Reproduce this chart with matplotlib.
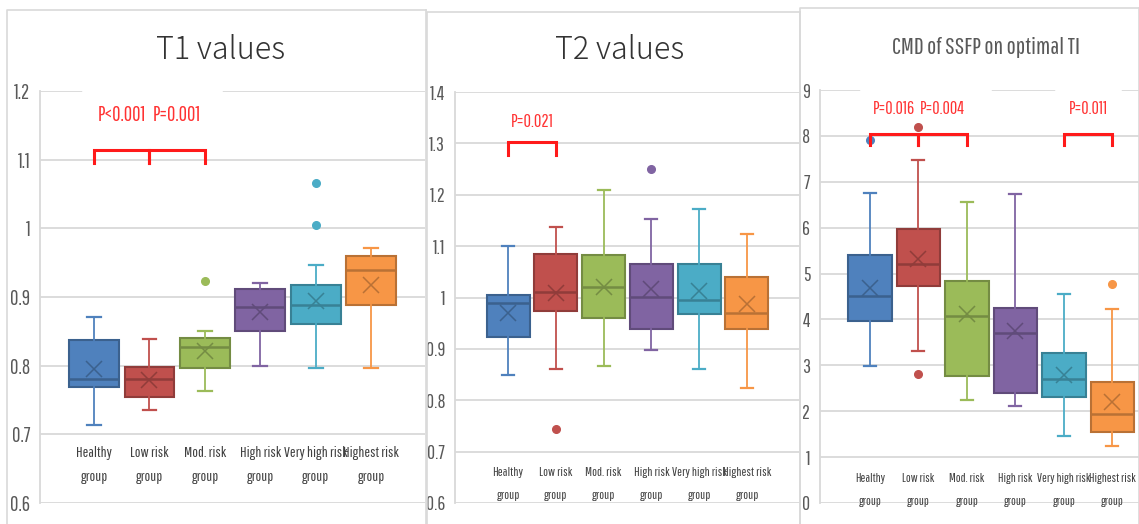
import matplotlib
matplotlib.use("Agg")
import matplotlib.pyplot as plt
from matplotlib import font_manager
from matplotlib.lines import Line2D
import matplotlib.colors as mcolors

# groups shared by all three panels
groups = ["Healthy\ngroup", "Low risk\ngroup", "Mod. risk\ngroup",
          "High risk\ngroup", "Very high risk\ngroup", "Highest risk\ngroup"]
colors = ["#4F81BD", "#C0504D", "#9BBB59", "#8064A2", "#4BACC6", "#F79646"]

# T1 values
t1_whislo = [0.714, 0.736, 0.763, 0.800, 0.796, 0.796]
t1_q1 = [0.769, 0.755, 0.796, 0.850, 0.860, 0.888]
t1_med = [0.780, 0.780, 0.827, 0.886, 0.889, 0.940]
t1_q3 = [0.838, 0.798, 0.841, 0.912, 0.917, 0.959]
t1_whishi = [0.871, 0.839, 0.851, 0.921, 0.947, 0.972]
t1_mean = [0.795, 0.779, 0.822, 0.878, 0.894, 0.917]
t1_fliers = [[], [], [0.923], [], [1.066, 1.005], []]
t1_pvals = [(0, 1, "P<0.001"), (1, 2, "P=0.001")]

# T2 values
t2_whislo = [0.850, 0.860, 0.866, 0.898, 0.860, 0.824]
t2_q1 = [0.923, 0.973, 0.960, 0.939, 0.968, 0.939]
t2_med = [0.989, 1.010, 1.020, 1.001, 0.996, 0.970]
t2_q3 = [1.004, 1.085, 1.082, 1.065, 1.065, 1.040]
t2_whishi = [1.100, 1.137, 1.209, 1.153, 1.173, 1.123]
t2_mean = [0.970, 1.009, 1.020, 1.016, 1.012, 0.987]
t2_fliers = [[], [0.744], [], [1.251], [], []]
t2_pvals = [(0, 1, "P=0.021")]

# CMD of SSFP on optimal TI
cmd_whislo = [2.99, 3.32, 2.25, 2.12, 1.47, 1.25]
cmd_q1 = [3.96, 4.73, 2.76, 2.40, 2.32, 1.55]
cmd_med = [4.52, 5.21, 4.08, 3.70, 2.71, 1.95]
cmd_q3 = [5.41, 5.97, 4.83, 4.26, 3.27, 2.64]
cmd_whishi = [6.76, 7.48, 6.55, 6.74, 4.56, 4.23]
cmd_mean = [4.68, 5.32, 4.12, 3.74, 2.80, 2.21]
cmd_fliers = [[7.9], [2.82, 8.2], [], [], [], [4.77]]
cmd_pvals = [(0, 1, "P=0.016"), (1, 2, "P=0.004"), (4, 5, "P=0.011")]

# pick a narrow font, the pasted excel charts are squeezed sideways
_names = {f.name for f in font_manager.fontManager.ttflist}
_narrow_choices = ["Pathway Gothic One", "Sofia Sans Extra Condensed", "Saira Extra Condensed",
                   "Barlow Condensed", "Roboto Condensed", "Archivo Narrow", "PT Sans Narrow"]
NARROW = [n for n in _narrow_choices if n in _names][:1] + ["DejaVu Sans"]
TITLE = ["Noto Sans CJK JP", "DejaVu Sans"]
GRID = "#D9D9D9"
W, H = 1139, 524

fig = plt.figure(figsize=(W / 100, H / 100), dpi=100)
fig.patch.set_facecolor("white")
renderer = fig.canvas.get_renderer()


def fit_size(s, target_px, family=NARROW):
    # font size that makes string s about target_px wide
    t = fig.text(0, 0, s, fontsize=10, family=family)
    w = t.get_window_extent(renderer).width
    t.remove()
    return 10 * target_px / w


def line_step(fs, family=NARROW):
    # pixel step between two lines at linespacing 1
    t1 = fig.text(0, 0, "group", fontsize=fs, family=family, linespacing=1)
    t2 = fig.text(0, 0, "group\ngroup", fontsize=fs, family=family, linespacing=1)
    d = t2.get_window_extent(renderer).height - t1.get_window_extent(renderer).height
    t1.remove()
    t2.remove()
    return d


def darker(c, f=0.75):
    r, g, b = mcolors.to_rgb(c)
    return (r * f, g * f, b * f)


def px_axes(left, right, top, bottom):
    return fig.add_axes([left / W, 1 - bottom / H, (right - left) / W, (bottom - top) / H])


def draw_panel(ax, whislo, q1, med, q3, whishi, mean, fliers, pvals,
               ylim, yticks, xlim, label_y, bracket_y, drop, ptext_y, gaps, sizes):
    lab_px, line_px, p_px, tick_px, tick_ref = sizes
    stats = []
    for i in range(len(groups)):
        stats.append(dict(whislo=whislo[i], q1=q1[i], med=med[i], q3=q3[i],
                          whishi=whishi[i], mean=mean[i], fliers=fliers[i]))
    pos = list(range(len(groups)))
    bp = ax.bxp(stats, positions=pos, widths=0.9, patch_artist=True,
                showmeans=True, capwidths=0.25, manage_ticks=False)
    for i, c in enumerate(colors):
        dk = darker(c)
        bp["boxes"][i].set(facecolor=c, edgecolor=dk, linewidth=1.5)
        bp["medians"][i].set(color=dk, linewidth=1.8)
        bp["means"][i].set(marker="x", markeredgecolor=dk, markersize=11,
                           markeredgewidth=1.1, linestyle="none")
        for w in bp["whiskers"][2 * i:2 * i + 2]:
            w.set(color=c, linewidth=1.3)
        for cp in bp["caps"][2 * i:2 * i + 2]:
            cp.set(color=c, linewidth=1.6)
        bp["fliers"][i].set(marker="o", markerfacecolor=c, markeredgecolor=c,
                            markersize=5.5)

    ax.set_xlim(*xlim)
    ax.set_ylim(*ylim)
    ax.set_yticks(yticks)
    ax.set_yticklabels([f"{v:g}" for v in yticks], family=NARROW)
    ax.set_xticks([])
    ax.tick_params(axis="y", length=0, pad=7, labelcolor="#595959",
                   labelsize=fit_size(tick_ref, tick_px))
    ax.yaxis.grid(True, color=GRID, linewidth=1.3)
    ax.set_axisbelow(True)
    for s in ["top", "right", "bottom"]:
        ax.spines[s].set_visible(False)
    ax.spines["left"].set_color(GRID)
    ax.spines["left"].set_linewidth(1.3)
    ax.patch.set_alpha(0)

    fs = fit_size("Very high risk", lab_px)
    ls = line_px / line_step(fs)
    for i, g in enumerate(groups):
        ax.text(i, label_y, g, ha="center", va="center", fontsize=fs,
                family=NARROW, color="#404040", linespacing=ls)

    # white text boxes that cut the top gridline
    for a, b in gaps:
        ax.plot([a, b], [1, 1], transform=ax.transAxes, color="white",
                linewidth=4, clip_on=False, zorder=5)

    pfs = fit_size("P=0.001", p_px)
    for a, b, txt in pvals:
        ax.plot([a, a, b, b], [bracket_y - drop, bracket_y, bracket_y, bracket_y - drop],
                color="#FF1A1A", linewidth=2.2, solid_joinstyle="miter", zorder=6)
        ax.text((a + b) / 2, ptext_y, txt, ha="center", va="center", fontsize=pfs,
                family=NARROW, color="#FF3333", zorder=7)


ax1 = px_axes(40, 425, 91, 503)
draw_panel(ax1, t1_whislo, t1_q1, t1_med, t1_q3, t1_whishi, t1_mean, t1_fliers, t1_pvals,
           (0.6, 1.2), [0.6, 0.7, 0.8, 0.9, 1.0, 1.1, 1.2], (-0.975, 5.97),
           0.655, 1.114, 0.019, 1.165, [(0.117, 0.468)], (64, 27, 48, 20, "0.9"))

ax2 = px_axes(455, 800, 92, 503)
draw_panel(ax2, t2_whislo, t2_q1, t2_med, t2_q3, t2_whishi, t2_mean, t2_fliers, t2_pvals,
           (0.6, 1.4), [0.6, 0.7, 0.8, 0.9, 1.0, 1.1, 1.2, 1.3, 1.4], (-1.11, 6.11),
           0.637, 1.302, 0.024, 1.342, [], (55, 25, 43, 15, "1.4"))

ax3 = px_axes(820, 1139, 90, 503)
draw_panel(ax3, cmd_whislo, cmd_q1, cmd_med, cmd_q3, cmd_whishi, cmd_mean, cmd_fliers, cmd_pvals,
           (0, 9), list(range(10)), (-1.03, 5.55),
           0.28, 8.04, 0.24, 8.58, [(0.135, 0.53), (0.746, 0.937)], (54, 25, 42, 15, "1.4"))

# titles
fig.text(221 / W, 1 - 50 / H, "T1 values", ha="center", va="center",
         fontsize=22, family=TITLE, weight="light", color="#333333")
fig.text(620 / W, 1 - 50 / H, "T2 values", ha="center", va="center",
         fontsize=22, family=TITLE, weight="light", color="#333333")
fig.text(986 / W, 1 - 47 / H, "CMD of SSFP on optimal TI", ha="center", va="center",
         fontsize=fit_size("CMD of SSFP on optimal TI", 187), family=NARROW, color="#595959")

# chart area borders of the three pasted charts
for x0, x1, top in [(7, 426, 10), (427, 800, 12), (800, 1139, 8)]:
    fig.add_artist(Line2D([x0 / W, x0 / W, x1 / W], [0, 1 - top / H, 1 - top / H],
                          transform=fig.transFigure, color=GRID, linewidth=1.2))
    fig.add_artist(Line2D([x1 / W, x1 / W], [0, 1 - top / H],
                          transform=fig.transFigure, color=GRID, linewidth=1.2))

fig.savefig("out.png", dpi=100)
